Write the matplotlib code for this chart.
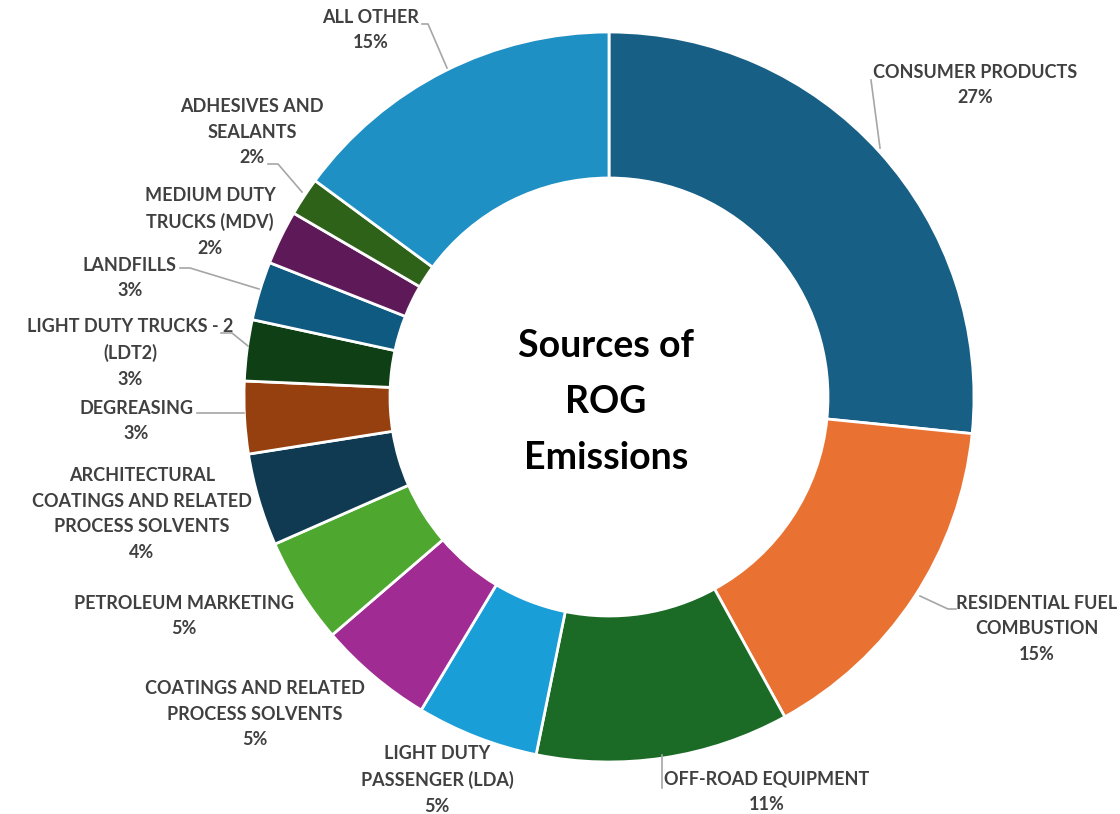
import matplotlib.pyplot as plt
import numpy as np

# data (clockwise from 12 o'clock)
sources = ['CONSUMER PRODUCTS', 'RESIDENTIAL FUEL\nCOMBUSTION', 'OFF-ROAD EQUIPMENT',
           'LIGHT DUTY\nPASSENGER (LDA)', 'COATINGS AND RELATED\nPROCESS SOLVENTS',
           'PETROLEUM MARKETING', 'ARCHITECTURAL\nCOATINGS AND RELATED\nPROCESS SOLVENTS',
           'DEGREASING', 'LIGHT DUTY TRUCKS - 2\n(LDT2)', 'LANDFILLS',
           'MEDIUM DUTY\nTRUCKS (MDV)', 'ADHESIVES AND\nSEALANTS', 'ALL OTHER']
shares = [26.6, 15.4, 11.2, 5.4, 5.1, 4.7, 4.1, 3.2, 2.7, 2.6, 2.4, 1.7, 14.9]

colors = ['#175F85', '#E97233', '#1B6B26', '#1A9ED8', '#A02B93', '#4EA72E', '#0F3A51',
          '#97400F', '#0F3F14', '#0F5A80', '#5E1A58', '#2E6219', '#1F90C4']

# label block centres and leader lines, in pixels of the 1120x814 picture
label_px = [(975, 85), (1037, 629), (767, 792), (437, 780), (255, 714), (184, 616),
            (142, 514), (136, 421), (130, 353), (130, 278), (210, 222), (252, 132), (371, 30)]
leaders_px = [
    [(871, 80), (880, 148)],
    [(920, 596), (948, 609), (956, 609)],
    [(662, 755), (662, 788)],
    None, None, None, None,
    [(197, 413), (244, 413)],
    [(221, 333), (232, 333), (248, 346)],
    [(180, 268), (190, 268), (259, 289)],
    None,
    [(268, 164), (278, 164), (302, 192)],
    [(422, 24), (428, 24), (447, 68)],
]

cx, cy, R = 609, 397, 365
W, H = 1120, 814


def px(p):
    return ((p[0] - cx) / R, (cy - p[1]) / R)


fig = plt.figure(figsize=(W / 100, H / 100), dpi=100)
ax = fig.add_axes([0, 0, 1, 1])
ax.pie(shares, colors=colors, startangle=90, counterclock=False, radius=1,
       wedgeprops=dict(width=0.4, edgecolor='white', linewidth=2))
ax.set_xlim(-cx / R, (W - cx) / R)
ax.set_ylim(-(H - cy) / R, cy / R)
ax.set_aspect('equal')
ax.axis('off')

for name, s, p, lead in zip(sources, shares, label_px, leaders_px):
    x, y = px(p)
    ax.text(x, y, f'{name}\n{round(s):.0f}%', ha='center', va='center',
            fontsize=13, fontweight='bold', color='#404040', family='Lato',
            linespacing=1.6)
    if lead:
        pts = np.array([px(q) for q in lead])
        ax.plot(pts[:, 0], pts[:, 1], color='#A6A6A6', lw=1.2)

ax.text(*px((606, 402)), 'Sources of\nROG\nEmissions', ha='center', va='center',
        fontsize=27, fontweight='bold', color='black', family='Lato', linespacing=1.8)

plt.savefig('out.png', dpi=100)
